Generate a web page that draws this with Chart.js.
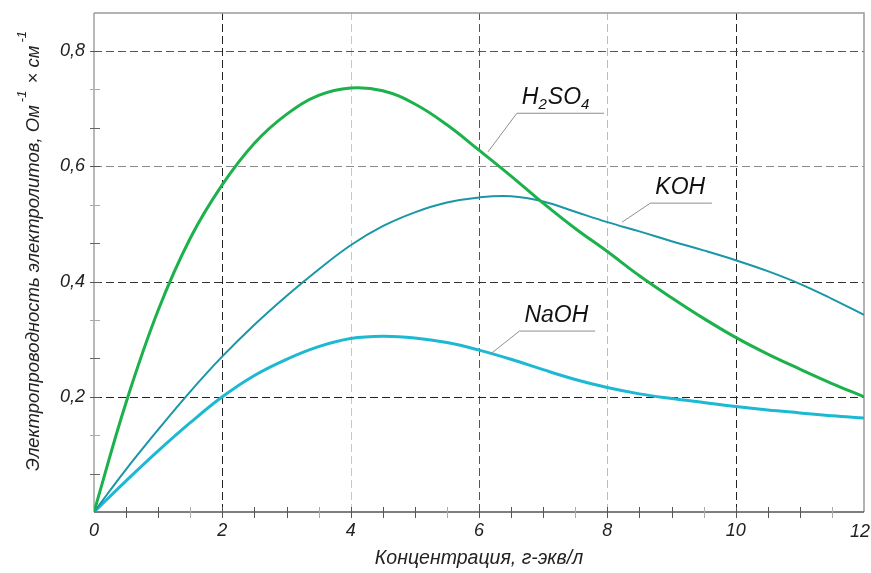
<!DOCTYPE html>
<html>
<head>
<meta charset="utf-8">
<script src="https://cdn.jsdelivr.net/npm/chart.js@4.4.1/dist/chart.umd.min.js"></script>
<style>
html,body{margin:0;padding:0;background:#fff;}
canvas{display:block;}
</style>
</head>
<body>
<canvas id="c" width="871" height="573"></canvas>
<script>
// ---- data ----
const concentration = [0,0.5,1,1.5,2,2.5,3,3.5,4,4.5,5,5.5,6,6.5,7,7.5,8,8.5,9,9.5,10,10.5,11,11.5,12];
const h2so4 = [0,0.19,0.35,0.475,0.568,0.64,0.69,0.723,0.736,0.731,0.708,0.672,0.628,0.583,0.536,0.492,0.452,0.41,0.372,0.336,0.303,0.274,0.248,0.223,0.2];
const koh   = [0,0.074,0.143,0.209,0.27,0.325,0.375,0.421,0.463,0.496,0.52,0.537,0.546,0.548,0.539,0.521,0.503,0.487,0.47,0.454,0.437,0.418,0.396,0.37,0.342];
const naoh  = [0,0.054,0.106,0.155,0.2,0.237,0.265,0.287,0.301,0.305,0.302,0.294,0.281,0.265,0.247,0.23,0.216,0.205,0.197,0.19,0.183,0.177,0.172,0.167,0.163];
const xTickLabels = [0,2,4,6,8,10,12];
const yTickLabels = [0.2,0.4,0.6,0.8];
const seriesNames = ['H2SO4','KOH','NaOH'];
const xTitle = 'Концентрация, г-экв/л';
const yTitle = 'Электропроводность электролитов, Ом';

const FONT = '"Liberation Sans", Arial, sans-serif';

function pts(arr){ return concentration.map((x,i)=>({x:x,y:arr[i]})); }

// label anchors in data units: [curveX, curveY, elbowX, elbowY, endX]
const labelLeaders = {
  H2SO4: [6.14,0.625, 6.59,0.692, 7.95],
  KOH:   [8.23,0.503, 8.67,0.536, 9.63],
  NaOH:  [6.2,0.276, 6.63,0.314, 7.81]
};

const xGridColors = {2:'#222',4:'#c8c8c8',6:'#555',8:'#bdbdbd',10:'#222'};
const yGridColors = {2:'#222',4:'#333',6:'#8a8a8a',8:'#555'};
const lastX = xTickLabels[xTickLabels.length-1];

const drawPlugin = {
  id:'custom',
  beforeDatasetsDraw(chart){
    const ctx = chart.ctx, a = chart.chartArea;
    const xs = chart.scales.x, ys = chart.scales.y;
    ctx.save();
    ctx.lineWidth = 1;
    ctx.setLineDash([8,4]);
    xTickLabels.forEach(v=>{
      if(v===0||v===lastX) return;
      const px = Math.round(xs.getPixelForValue(v))+0.5;
      ctx.strokeStyle = xGridColors[v];
      ctx.beginPath(); ctx.moveTo(px,a.bottom); ctx.lineTo(px,a.top); ctx.stroke();
    });
    yTickLabels.forEach(v=>{
      const py = Math.round(ys.getPixelForValue(v))+0.5;
      ctx.strokeStyle = yGridColors[Math.round(v*10)];
      ctx.beginPath(); ctx.moveTo(a.left,py); ctx.lineTo(a.right,py); ctx.stroke();
    });
    ctx.setLineDash([]);
    ctx.strokeStyle = '#9a9a9a'; ctx.lineWidth = 1.5;
    ctx.beginPath(); ctx.moveTo(a.left,a.top); ctx.lineTo(a.right,a.top); ctx.lineTo(a.right,a.bottom); ctx.stroke();
    ctx.strokeStyle = '#8a8a8a'; ctx.lineWidth = 1.2;
    ctx.beginPath(); ctx.moveTo(a.left,a.top); ctx.lineTo(a.left,a.bottom); ctx.stroke();
    ctx.strokeStyle = '#555'; ctx.lineWidth = 1.3;
    ctx.beginPath(); ctx.moveTo(a.left,a.bottom); ctx.lineTo(a.right,a.bottom); ctx.stroke();
    ctx.lineWidth = 1;
    for(let k=1;k<=12;k++){
      const v = k*0.2/3;
      const py = Math.round(ys.getPixelForValue(v))+0.5;
      ctx.strokeStyle = (k%3===0)? '#555' : (k%3===1 ? '#666':'#aaa');
      ctx.beginPath(); ctx.moveTo(a.left-4,py); ctx.lineTo(a.left+6,py); ctx.stroke();
    }
    for(let k=1;k<24;k++){
      const v = k*0.5;
      const px = Math.round(xs.getPixelForValue(v))+0.5;
      ctx.strokeStyle = (k%2===0)? '#555' : (k%4===1 ? '#555':'#aaa');
      ctx.beginPath(); ctx.moveTo(px,a.bottom-5); ctx.lineTo(px,a.bottom+6); ctx.stroke();
    }
    // last x tick label, kept inside the canvas
    ctx.fillStyle = '#222';
    ctx.font = 'italic 18px '+FONT;
    ctx.textAlign = 'right'; ctx.textBaseline = 'top';
    ctx.fillText(String(lastX), chart.width - 1, a.bottom + 11);
    // y title
    ctx.textAlign = 'left';
    ctx.translate(34, 250);
    ctx.rotate(-Math.PI/2);
    ctx.textBaseline = 'middle';
    const parts = [[yTitle,false],['-1',true],[' × см',false],['-1',true]];
    const bigF = 'italic 18.5px '+FONT, smF = 'italic 13px '+FONT;
    let total = 0;
    parts.forEach(p=>{ ctx.font = p[1]?smF:bigF; total += ctx.measureText(p[0]).width + (p[1]?5:0); });
    let cx = -total/2;
    parts.forEach(p=>{
      ctx.font = p[1]?smF:bigF;
      const w = ctx.measureText(p[0]).width;
      if(p[1]){ ctx.fillText(p[0], cx+3, -12); cx += w+5; }
      else { ctx.fillText(p[0], cx, 0); cx += w; }
    });
    ctx.restore();
  },
  afterDatasetsDraw(chart){
    const ctx = chart.ctx;
    const xs = chart.scales.x, ys = chart.scales.y;
    ctx.save();
    ctx.strokeStyle = '#8f8f8f'; ctx.lineWidth = 1;
    ctx.fillStyle = '#111';
    ctx.textBaseline = 'alphabetic';
    seriesNames.forEach(name=>{
      const L = labelLeaders[name];
      const cx = xs.getPixelForValue(L[0]), cy = ys.getPixelForValue(L[1]);
      const ex = xs.getPixelForValue(L[2]), ey = ys.getPixelForValue(L[3]);
      const rx = xs.getPixelForValue(L[4]);
      ctx.beginPath(); ctx.moveTo(cx,cy); ctx.lineTo(ex,ey); ctx.lineTo(rx,ey); ctx.stroke();
      let tx = ex + 5, ty = ey - 9;
      const big = 'italic 23px '+FONT, small = 'italic 15px '+FONT;
      if(name==='H2SO4'){
        const segs = [['H',0],['2',1],['SO',0],['4',1]];
        segs.forEach(s=>{
          ctx.font = s[1]?small:big;
          ctx.fillText(s[0], tx, ty + (s[1]?5:0));
          tx += ctx.measureText(s[0]).width + (s[1]?1:0);
        });
      } else {
        ctx.font = big;
        ctx.fillText(name, tx, ty);
      }
    });
    ctx.restore();
  }
};

new Chart(document.getElementById('c'), {
  type:'line',
  data:{
    datasets:[
      {label:'H2SO4', data:pts(h2so4), borderColor:'#1cb14b', borderWidth:3, pointRadius:0, tension:0.4, fill:false},
      {label:'KOH', data:pts(koh), borderColor:'#1996a7', borderWidth:2, pointRadius:0, tension:0.4, fill:false},
      {label:'NaOH', data:pts(naoh), borderColor:'#1db9d3', borderWidth:3, pointRadius:0, tension:0.4, fill:false}
    ]
  },
  options:{
    responsive:false,
    devicePixelRatio:1,
    animation:false,
    layout:{padding:{left:0,top:13,right:7,bottom:0}},
    plugins:{legend:{display:false}, tooltip:{enabled:false}},
    scales:{
      x:{
        type:'linear', min:0, max:12,
        afterFit(s){ s.height = 61; s.paddingLeft = 0; s.paddingRight = 0; },
        grid:{display:false, drawTicks:false},
        border:{display:false},
        ticks:{stepSize:2, padding:8, color:'#222', font:{family:FONT, style:'italic', size:18},
          callback:v=> (xTickLabels.includes(v) && v!==lastX) ? String(v) : ''},
        title:{display:true, text:xTitle, color:'#222', font:{family:FONT, style:'italic', size:19.5}, padding:{top:0,bottom:3}}
      },
      y:{
        type:'linear', min:0, max:0.866,
        afterFit(s){ s.width = 94; s.paddingTop = 0; s.paddingBottom = 0; },
        grid:{display:false, drawTicks:false},
        border:{display:false},
        ticks:{stepSize:0.2, padding:9, color:'#222', font:{family:FONT, style:'italic', size:18},
          callback:v=>{ const r = Math.round(v*10)/10; return (yTickLabels.includes(r) && Math.abs(v-r)<1e-6) ? String(r).replace('.',',') : ''; }}
      }
    }
  },
  plugins:[drawPlugin]
});
</script>
</body>
</html>
